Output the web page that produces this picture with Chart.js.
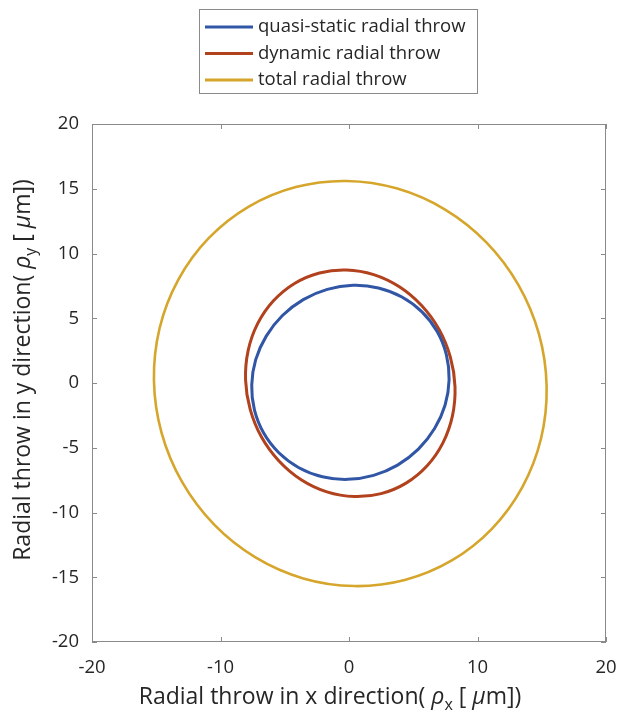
<!DOCTYPE html>
<html>
<head>
<meta charset="utf-8">
<script src="https://cdn.jsdelivr.net/npm/chart.js@4"></script>
<style>
  body { margin: 0; background: #fff; }
  #wrap { width: 621px; height: 716px; }
</style>
</head>
<body>
<div id="wrap"><canvas id="myChart" width="621" height="716"></canvas></div>
<script>
// series labels
const seriesNames = ['quasi-static radial throw', 'dynamic radial throw', 'total radial throw'];

// quasi-static (blue), points read around the curve, µm
const quasiX = [7.79, 7.58, 6.86, 5.68, 4.12, 2.29, 0.31, -1.69, -3.56, -5.18, -6.44, -7.26,
    -7.57, -7.36, -6.64, -5.46, -3.90, -2.07, -0.09, 1.91, 3.78, 5.40, 6.66, 7.48];
const quasiY = [0.25, 2.18, 3.97, 5.49, 6.64, 7.34, 7.54, 7.23, 6.44, 5.21, 3.62, 1.80,
    -0.15, -2.08, -3.87, -5.39, -6.54, -7.24, -7.44, -7.13, -6.34, -5.11, -3.52, -1.70];

// dynamic (red)
const dynX = [8.25, 7.89, 7.01, 5.65, 3.92, 1.92, -0.20, -2.30, -4.24, -5.88, -7.11, -7.85,
    -8.05, -7.69, -6.81, -5.45, -3.72, -1.72, 0.40, 2.50, 4.44, 6.08, 7.31, 8.05];
const dynY = [-0.28, 1.99, 4.13, 5.98, 7.43, 8.37, 8.73, 8.50, 7.69, 6.35, 4.58, 2.50,
    0.24, -2.03, -4.17, -6.02, -7.47, -8.41, -8.77, -8.54, -7.73, -6.39, -4.62, -2.54];

// total (yellow)
const totX = [15.38, 14.78, 13.18, 10.69, 7.48, 3.76, -0.20, -4.14, -7.80, -10.92, -13.28, -14.74,
    -15.18, -14.58, -12.98, -10.49, -7.28, -3.56, 0.40, 4.34, 8.00, 11.12, 13.48, 14.94];
const totY = [-0.27, 3.79, 7.58, 10.86, 13.39, 15.01, 15.60, 15.13, 13.62, 11.18, 7.98, 4.23,
    0.19, -3.87, -7.66, -10.94, -13.47, -15.09, -15.68, -15.21, -13.70, -11.26, -8.06, -4.31];

// axis ticks
const xTicks = [-20, -10, 0, 10, 20];
const yTicks = [-20, -15, -10, -5, 0, 5, 10, 15, 20];

const colors = ['#3156a6', '#b1421d', '#d6a62c'];
const FONT = '"Open Sans", sans-serif';

// closed curve: wrap one point on each end so the spline stays smooth, hide those two segments
toPoints = (xs, ys) => {
    let pts = xs.map((x, i) => ({ x: x, y: ys[i] }));
    return [pts[pts.length - 1], ...pts, pts[0], pts[1]];
};
hideEnds = ctx => {
    let n = ctx.chart.data.datasets[ctx.datasetIndex].data.length;
    return (ctx.p0DataIndex === 0 || ctx.p1DataIndex === n - 1) ? 'rgba(0,0,0,0)' : undefined;
};

const data = {
    datasets: [
        { label: seriesNames[0], data: toPoints(quasiX, quasiY), borderColor: colors[0], borderWidth: 3 },
        { label: seriesNames[1], data: toPoints(dynX, dynY), borderColor: colors[1], borderWidth: 3 },
        { label: seriesNames[2], data: toPoints(totX, totY), borderColor: colors[2], borderWidth: 2.6 }
    ].map(d => Object.assign(d, {
        showLine: true, pointRadius: 0, tension: 0.34, fill: false,
        segment: { borderColor: hideEnds }
    }))
};

// box, inward ticks, axis titles and legend, matlab style
const matlabAxes = {
    id: 'matlabAxes',
    afterDraw(chart) {
        const ctx = chart.ctx;
        const a = chart.chartArea;
        const sx = chart.scales.x, sy = chart.scales.y;
        ctx.save();
        ctx.strokeStyle = '#8a8a8a';
        ctx.lineWidth = 1;
        ctx.strokeRect(a.left + 0.5, a.top + 0.5, a.right - a.left - 1, a.bottom - a.top - 1);
        ctx.beginPath();
        xTicks.forEach(v => {
            let px = Math.round(sx.getPixelForValue(v)) + 0.5;
            ctx.moveTo(px, a.bottom); ctx.lineTo(px, a.bottom - 5);
            ctx.moveTo(px, a.top); ctx.lineTo(px, a.top + 5);
        });
        yTicks.forEach(v => {
            let py = Math.round(sy.getPixelForValue(v)) + 0.5;
            ctx.moveTo(a.left, py); ctx.lineTo(a.left + 5, py);
            ctx.moveTo(a.right, py); ctx.lineTo(a.right - 5, py);
        });
        ctx.stroke();

        // axis titles with subscripts
        const drawTitle = (cx, cy, rot, axisLetter) => {
            const parts = [
                { t: 'Radial throw in ' + axisLetter + ' direction( ', f: '23px ' + FONT, dy: 0 },
                { t: 'ρ', f: 'italic 23px ' + FONT, dy: 0 },
                { t: axisLetter, f: '16px ' + FONT, dy: 8 },
                { t: ' [ ', f: '23px ' + FONT, dy: 0 },
                { t: 'μ', f: 'italic 23px ' + FONT, dy: 0 },
                { t: 'm])', f: '23px ' + FONT, dy: 0 }
            ];
            let total = 0;
            parts.forEach(p => { ctx.font = p.f; p.w = ctx.measureText(p.t).width; total += p.w; });
            ctx.save();
            ctx.translate(cx, cy);
            ctx.rotate(rot);
            ctx.fillStyle = '#262626';
            ctx.textBaseline = 'middle';
            ctx.textAlign = 'left';
            let x = -total / 2;
            parts.forEach(p => { ctx.font = p.f; ctx.fillText(p.t, x, p.dy); x += p.w; });
            ctx.restore();
        };
        drawTitle(330, 697, 0, 'x');
        drawTitle(23, 370, -Math.PI / 2, 'y');

        // legend box
        ctx.fillStyle = '#fff';
        ctx.fillRect(199, 9, 278, 84);
        ctx.strokeStyle = '#8a8a8a';
        ctx.strokeRect(199.5, 9.5, 278, 84);
        ctx.font = '18.5px ' + FONT;
        ctx.textBaseline = 'middle';
        ctx.fillStyle = '#262626';
        chart.data.datasets.forEach((ds, i) => {
            let y = 27 + i * 26.5;
            ctx.strokeStyle = ds.borderColor;
            ctx.lineWidth = 3;
            ctx.beginPath();
            ctx.moveTo(205, y); ctx.lineTo(253, y);
            ctx.stroke();
            ctx.fillText(ds.label, 258, y);
        });
        ctx.restore();
    }
};

const config = {
    type: 'scatter',
    data: data,
    options: {
        responsive: false,
        animation: false,
        layout: { padding: { top: 124, right: 15, left: 0, bottom: 0 } },
        plugins: { legend: { display: false }, tooltip: { enabled: false } },
        scales: {
            x: {
                type: 'linear', min: -20, max: 20,
                afterFit: s => { s.height = 74; s.paddingLeft = 0; s.paddingRight = 0; },
                afterBuildTicks: s => { s.ticks = xTicks.map(v => ({ value: v })); },
                grid: { display: false, drawTicks: false },
                border: { display: false },
                ticks: { color: '#262626', font: { family: FONT, size: 18.5 }, padding: 15 }
            },
            y: {
                type: 'linear', min: -20, max: 20,
                afterFit: s => { s.width = 92; s.paddingTop = 0; s.paddingBottom = 0; },
                afterBuildTicks: s => { s.ticks = yTicks.map(v => ({ value: v })); },
                grid: { display: false, drawTicks: false },
                border: { display: false },
                ticks: { color: '#262626', font: { family: FONT, size: 18.5 }, padding: 13 }
            }
        }
    },
    plugins: [matlabAxes]
};

let myChart = new Chart(document.getElementById('myChart'), config);
</script>
</body>
</html>
